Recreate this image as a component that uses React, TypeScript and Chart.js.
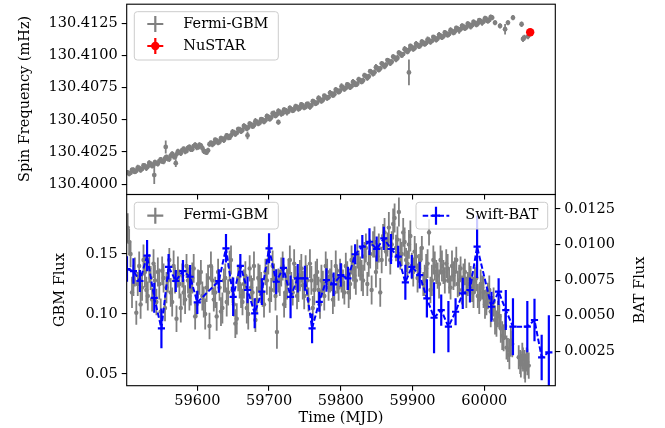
import { useEffect, useRef } from "react";
import { Chart, registerables } from "chart.js";
Chart.register(...registerables);

// ---------------- DATA ----------------
const xMin = 59501.6;
const xMax = 60099;
const xTickValues = [59600, 59700, 59800, 59900, 60000];
const freqTickValues = [130.4, 130.4025, 130.405, 130.4075, 130.41, 130.4125];
const gbmTickValues = [0.05, 0.1, 0.15];
const batTickValues = [0.0025, 0.005, 0.0075, 0.01, 0.0125];

const freqTime = [
  59503, 59507, 59511, 59515, 59519, 59523, 59527, 59531, 59535, 59539,
  59543, 59547, 59551, 59555, 59559, 59563, 59567, 59571, 59575, 59579,
  59583, 59587, 59591, 59595, 59599, 59603, 59607, 59611, 59615, 59619,
  59623, 59627, 59631, 59635, 59639, 59643, 59647, 59651, 59655, 59659,
  59663, 59667, 59671, 59675, 59679, 59683, 59687, 59691, 59695, 59699,
  59703, 59707, 59711, 59715, 59719, 59723, 59727, 59731, 59735, 59739,
  59743, 59747, 59751, 59755, 59759, 59763, 59767, 59771, 59775, 59779,
  59783, 59787, 59791, 59795, 59799, 59803, 59807, 59811, 59815, 59819,
  59823, 59827, 59831, 59835, 59839, 59843, 59847, 59851, 59855, 59859,
  59863, 59867, 59871, 59875, 59879, 59883, 59887, 59891, 59895, 59899,
  59903, 59907, 59911, 59915, 59919, 59923, 59927, 59931, 59935, 59939,
  59943, 59947, 59951, 59955, 59959, 59963, 59967, 59971, 59975, 59979,
  59983, 59987, 59991, 59995, 59999, 60003, 60007, 60011,
  60015, 60022, 60029, 60033, 60040, 60052, 60054, 60056, 60061,
  59540, 59556, 59570, 59670, 59713, 59895,
];
const freqValue = [
  130.4009, 130.40088, 130.40108, 130.40104, 130.40125, 130.40118, 130.4014, 130.40136, 130.40158, 130.4015,
  130.40162, 130.40178, 130.40176, 130.402, 130.40195, 130.40222, 130.40215, 130.40232, 130.40246, 130.40265,
  130.40255, 130.40282, 130.4027, 130.40296, 130.40288, 130.40305, 130.4028, 130.40252, 130.40262, 130.40322,
  130.40318, 130.40338, 130.4033, 130.4035, 130.4036, 130.40366, 130.40378, 130.40402, 130.40398, 130.40425,
  130.4042, 130.40446, 130.4044, 130.40465, 130.40458, 130.40484, 130.40478, 130.405, 130.40496, 130.40522,
  130.40518, 130.40548, 130.40542, 130.40562, 130.40552, 130.40575, 130.40565, 130.40584, 130.4058, 130.406,
  130.40592, 130.40612, 130.406, 130.40618, 130.40612, 130.40638, 130.40634, 130.4066, 130.40655, 130.40678,
  130.40676, 130.40705, 130.407, 130.4073, 130.40726, 130.40752, 130.40748, 130.40768, 130.40762, 130.40786,
  130.4078, 130.40808, 130.40806, 130.4084, 130.40838, 130.4087, 130.4087, 130.40902, 130.409, 130.4093,
  130.40928, 130.40958, 130.40952, 130.40985, 130.40982, 130.41015, 130.41012, 130.41042, 130.41045, 130.41066,
  130.4106, 130.41084, 130.4108, 130.411, 130.41098, 130.41118, 130.41114, 130.41136, 130.41133, 130.41154,
  130.4115, 130.41172, 130.41168, 130.4119, 130.41188, 130.41208, 130.41205, 130.41225, 130.4122, 130.4124,
  130.41236, 130.41254, 130.4125, 130.41268, 130.41265, 130.41282, 130.41278, 130.41295,
  130.41256, 130.41231, 130.41205, 130.41256, 130.41295, 130.41244, 130.4113, 130.4114, 130.4115,
  130.4007, 130.40289, 130.40163, 130.40379, 130.40482, 130.40869,
];
const freqErr = [
  0.0002, 0.00016, 0.00024, 0.00018, 0.0002, 0.00016, 0.00022, 0.00018, 0.0002, 0.00024,
  0.00018, 0.0002, 0.00016, 0.00022, 0.00018, 0.0002, 0.00024, 0.00018, 0.0002, 0.00016,
  0.00022, 0.00018, 0.0002, 0.00016, 0.00024, 0.0002, 0.00018, 0.00022, 0.0002, 0.00016,
  0.0002, 0.00018, 0.00022, 0.0002, 0.00016, 0.00024, 0.00018, 0.0002, 0.00016, 0.00022,
  0.0002, 0.00018, 0.0002, 0.00016, 0.00024, 0.00018, 0.0002, 0.00022, 0.00016, 0.0002,
  0.00018, 0.00024, 0.0002, 0.00016, 0.00022, 0.00018, 0.0002, 0.00016, 0.0002, 0.00018,
  0.00022, 0.0002, 0.00016, 0.00024, 0.00018, 0.0002, 0.00016, 0.00022, 0.0002, 0.00018,
  0.0002, 0.00016, 0.00024, 0.00018, 0.0002, 0.00022, 0.00016, 0.0002, 0.00018, 0.00024,
  0.0002, 0.00016, 0.00022, 0.00018, 0.0002, 0.00016, 0.00024, 0.0002, 0.00018, 0.00022,
  0.0002, 0.00016, 0.0002, 0.00018, 0.00024, 0.0002, 0.00016, 0.00022, 0.0002, 0.00018,
  0.0002, 0.00016, 0.00022, 0.00018, 0.0002, 0.00024, 0.00016, 0.0002, 0.00018, 0.00022,
  0.0002, 0.00016, 0.0002, 0.00018, 0.00024, 0.0002, 0.00016, 0.00022, 0.0002, 0.00018,
  0.0002, 0.00016, 0.00022, 0.00018, 0.0002, 0.00024, 0.00018, 0.0002,
  0.0002, 0.0002, 0.0004, 0.0002, 0.0002, 0.00022, 0.00025, 0.00022, 0.00022,
  0.0007, 0.0005, 0.0003, 0.0003, 0.0002, 0.001,
];

const freqTimeB = [
  59505, 59509, 59513, 59517, 59521, 59525, 59529, 59533, 59537, 59541,
  59545, 59549, 59553, 59557, 59561, 59565, 59569, 59573, 59577, 59581,
  59585, 59589, 59593, 59597, 59601, 59605, 59609, 59613, 59617, 59621,
  59625, 59629, 59633, 59637, 59641, 59645, 59649, 59653, 59657, 59661,
  59665, 59669, 59673, 59677, 59681, 59685, 59689, 59693, 59697, 59701,
  59705, 59709, 59713, 59717, 59721, 59725, 59729, 59733, 59737, 59741,
  59745, 59749, 59753, 59757, 59761, 59765, 59769, 59773, 59777, 59781,
  59785, 59789, 59793, 59797, 59801, 59805, 59809, 59813, 59817, 59821,
  59825, 59829, 59833, 59837, 59841, 59845, 59849, 59853, 59857, 59861,
  59865, 59869, 59873, 59877, 59881, 59885, 59889, 59893, 59897, 59901,
  59905, 59909, 59913, 59917, 59921, 59925, 59929, 59933, 59937, 59941,
  59945, 59949, 59953, 59957, 59961, 59965, 59969, 59973, 59977, 59981,
  59985, 59989, 59993, 59997, 60001, 60005, 60009,
];
const freqValueB = [
  130.4008, 130.4011, 130.40095, 130.40128, 130.40108, 130.40145, 130.40125, 130.40165, 130.4014, 130.4017,
  130.40158, 130.40192, 130.40175, 130.40212, 130.40196, 130.40235, 130.4021, 130.40255, 130.4024, 130.40275,
  130.40258, 130.4029, 130.40272, 130.40305, 130.40285, 130.403, 130.40258, 130.40245, 130.4031, 130.40308,
  130.40345, 130.40322, 130.40358, 130.40342, 130.40378, 130.4036, 130.40405, 130.40388, 130.40428, 130.4041,
  130.40452, 130.4043, 130.4047, 130.40448, 130.4049, 130.4047, 130.40505, 130.40485, 130.40528, 130.40505,
  130.4055, 130.4053, 130.40568, 130.40545, 130.4058, 130.40558, 130.40592, 130.4057, 130.40605, 130.40585,
  130.4062, 130.40595, 130.40625, 130.406, 130.40645, 130.40625, 130.40668, 130.40645, 130.40688, 130.40668,
  130.4071, 130.4069, 130.40735, 130.40715, 130.4076, 130.40738, 130.40775, 130.40752, 130.40795, 130.40772,
  130.40815, 130.40795, 130.40845, 130.40825, 130.40878, 130.40858, 130.4091, 130.40888, 130.40938, 130.40915,
  130.40965, 130.4094, 130.40992, 130.4097, 130.41022, 130.41, 130.4105, 130.4103, 130.41075, 130.4105,
  130.41092, 130.4107, 130.41108, 130.41088, 130.41125, 130.41105, 130.41145, 130.41122, 130.41162, 130.4114,
  130.4118, 130.41158, 130.41198, 130.41178, 130.41215, 130.41195, 130.41232, 130.4121, 130.41248, 130.41225,
  130.41262, 130.4124, 130.41275, 130.41255, 130.4129, 130.41268, 130.413,
];
const freqErrB = [
  0.00018, 0.0002, 0.00016, 0.00022, 0.0002, 0.00018, 0.00024, 0.0002, 0.00016, 0.0002,
  0.00022, 0.00018, 0.0002, 0.00016, 0.00024, 0.0002, 0.00018, 0.0002, 0.00022, 0.00016,
  0.0002, 0.00018, 0.00022, 0.0002, 0.00016, 0.0002, 0.00024, 0.00018, 0.0002, 0.00022,
  0.00016, 0.0002, 0.00018, 0.00022, 0.0002, 0.00016, 0.00024, 0.0002, 0.00018, 0.0002,
  0.00022, 0.00016, 0.0002, 0.00018, 0.00024, 0.0002, 0.00016, 0.0002, 0.00022, 0.00018,
  0.0002, 0.00016, 0.00022, 0.0002, 0.00018, 0.00024, 0.0002, 0.00016, 0.0002, 0.00022,
  0.00018, 0.0002, 0.00016, 0.00022, 0.0002, 0.00018, 0.00024, 0.0002, 0.00016, 0.0002,
  0.00022, 0.00018, 0.0002, 0.00016, 0.00024, 0.0002, 0.00018, 0.0002, 0.00022, 0.00016,
  0.0002, 0.00018, 0.00022, 0.0002, 0.00016, 0.0002, 0.00024, 0.00018, 0.0002, 0.00022,
  0.00016, 0.0002, 0.00018, 0.00022, 0.0002, 0.00016, 0.00024, 0.0002, 0.00018, 0.0002,
  0.00022, 0.00016, 0.0002, 0.00018, 0.00024, 0.0002, 0.00016, 0.0002, 0.00022, 0.00018,
  0.0002, 0.00016, 0.00022, 0.0002, 0.00018, 0.00024, 0.0002, 0.00016, 0.0002, 0.00022,
  0.00018, 0.0002, 0.00016, 0.00022, 0.0002, 0.00018, 0.0002,
];

const nustarTime = [60064];
const nustarValue = [130.41182];
const nustarErr = [0.00003];

const gbmTime = [
  59503, 59507, 59511, 59515, 59519, 59523, 59527, 59531, 59535, 59539,
  59543, 59547, 59551, 59555, 59559, 59563, 59567, 59571, 59575, 59579,
  59583, 59587, 59591, 59595, 59599, 59603, 59607, 59611, 59615, 59619,
  59623, 59627, 59631, 59635, 59639, 59643, 59647, 59651, 59655, 59659,
  59663, 59667, 59671, 59675, 59679, 59683, 59687, 59691, 59695, 59699,
  59703, 59707, 59711, 59715, 59719, 59723, 59727, 59731, 59735, 59739,
  59743, 59747, 59751, 59755, 59759, 59763, 59767, 59771, 59775, 59779,
  59783, 59787, 59791, 59795, 59799, 59803, 59807, 59811, 59815, 59819,
  59823, 59827, 59831, 59835, 59839, 59843, 59847, 59851, 59855, 59859,
  59863, 59867, 59871, 59875, 59879, 59883, 59887, 59891, 59895, 59899,
  59903, 59907, 59911, 59915, 59919, 59923, 59927, 59931, 59935, 59939,
  59943, 59947, 59951, 59955, 59959, 59963, 59967, 59971, 59975, 59979,
  59983, 59987, 59991, 59995, 59999, 60003, 60007, 60011, 60015, 60019,
  60023, 60027, 60031, 60035, 60039, 60050, 60053, 60056, 60059, 60062,
];
const gbmFlux = [
  0.172, 0.15, 0.128, 0.101, 0.14, 0.122, 0.135, 0.115, 0.13, 0.142,
  0.11, 0.125, 0.136, 0.105, 0.128, 0.118, 0.14, 0.096, 0.125, 0.132,
  0.112, 0.128, 0.12, 0.138, 0.108, 0.126, 0.115, 0.1, 0.13, 0.14,
  0.112, 0.098, 0.122, 0.105, 0.13, 0.118, 0.145, 0.108, 0.096, 0.125,
  0.11, 0.132, 0.1, 0.122, 0.14, 0.112, 0.128, 0.118, 0.135, 0.145,
  0.12, 0.13, 0.085, 0.126, 0.14, 0.118, 0.135, 0.125, 0.142, 0.115,
  0.132, 0.124, 0.138, 0.112, 0.128, 0.12, 0.135, 0.108, 0.126, 0.14,
  0.122, 0.132, 0.118, 0.128, 0.136, 0.125, 0.14, 0.118, 0.145, 0.132,
  0.15, 0.138, 0.128, 0.155, 0.142, 0.12, 0.16, 0.148, 0.118, 0.165,
  0.152, 0.172, 0.158, 0.18, 0.162, 0.15, 0.168, 0.145, 0.158, 0.14,
  0.152, 0.13, 0.145, 0.125, 0.138, 0.168, 0.128, 0.14, 0.132, 0.145,
  0.135, 0.142, 0.128, 0.14, 0.135, 0.125, 0.138, 0.13, 0.118, 0.132,
  0.122, 0.128, 0.115, 0.125, 0.118, 0.11, 0.12, 0.105, 0.095, 0.1,
  0.088, 0.08, 0.072, 0.066, 0.075, 0.06, 0.065, 0.058, 0.062, 0.057,
];
const gbmFluxErr = [
  0.012, 0.011, 0.013, 0.01, 0.012, 0.011, 0.013, 0.012, 0.01, 0.012,
  0.011, 0.013, 0.012, 0.011, 0.01, 0.012, 0.013, 0.011, 0.012, 0.01,
  0.012, 0.011, 0.013, 0.012, 0.011, 0.01, 0.012, 0.013, 0.011, 0.012,
  0.01, 0.012, 0.011, 0.013, 0.012, 0.011, 0.012, 0.01, 0.013, 0.012,
  0.011, 0.012, 0.013, 0.01, 0.012, 0.011, 0.013, 0.012, 0.011, 0.012,
  0.01, 0.012, 0.014, 0.011, 0.012, 0.013, 0.011, 0.01, 0.012, 0.011,
  0.013, 0.012, 0.011, 0.01, 0.012, 0.013, 0.011, 0.012, 0.01, 0.012,
  0.011, 0.013, 0.012, 0.011, 0.01, 0.012, 0.011, 0.013, 0.012, 0.011,
  0.012, 0.01, 0.013, 0.012, 0.011, 0.012, 0.013, 0.011, 0.012, 0.01,
  0.012, 0.013, 0.011, 0.012, 0.011, 0.013, 0.012, 0.01, 0.012, 0.011,
  0.013, 0.012, 0.011, 0.01, 0.012, 0.011, 0.013, 0.012, 0.011, 0.012,
  0.01, 0.012, 0.011, 0.013, 0.012, 0.011, 0.01, 0.012, 0.013, 0.011,
  0.012, 0.011, 0.01, 0.012, 0.013, 0.011, 0.012, 0.01, 0.012, 0.011,
  0.012, 0.011, 0.01, 0.012, 0.011, 0.01, 0.011, 0.012, 0.01, 0.011,
];

const gbmTimeB = [
  59505, 59509, 59513, 59517, 59521, 59525, 59529, 59533, 59537, 59541,
  59545, 59549, 59553, 59557, 59561, 59565, 59569, 59573, 59577, 59581,
  59585, 59589, 59593, 59597, 59601, 59605, 59609, 59613, 59617, 59621,
  59625, 59629, 59633, 59637, 59641, 59645, 59649, 59653, 59657, 59661,
  59665, 59669, 59673, 59677, 59681, 59685, 59689, 59693, 59697, 59701,
  59705, 59709, 59713, 59717, 59721, 59725, 59729, 59733, 59737, 59741,
  59745, 59749, 59753, 59757, 59761, 59765, 59769, 59773, 59777, 59781,
  59785, 59789, 59793, 59797, 59801, 59805, 59809, 59813, 59817, 59821,
  59825, 59829, 59833, 59837, 59841, 59845, 59849, 59853, 59857, 59861,
  59865, 59869, 59873, 59877, 59881, 59885, 59889, 59893, 59897, 59901,
  59905, 59909, 59913, 59917, 59921, 59925, 59929, 59933, 59937, 59941,
  59945, 59949, 59953, 59957, 59961, 59965, 59969, 59973, 59977, 59981,
  59985, 59989, 59993, 59997, 60001, 60005, 60009, 60013, 60017, 60021,
  60025, 60029, 60033, 60037, 60048, 60051, 60054, 60057, 60060,
];
const gbmFluxB = [
  0.16, 0.118, 0.135, 0.125, 0.108, 0.145, 0.12, 0.138, 0.112, 0.128,
  0.135, 0.102, 0.13, 0.122, 0.145, 0.11, 0.128, 0.135, 0.105, 0.118,
  0.14, 0.115, 0.13, 0.098, 0.125, 0.135, 0.11, 0.122, 0.09, 0.128,
  0.118, 0.135, 0.102, 0.128, 0.11, 0.14, 0.12, 0.092, 0.13, 0.115,
  0.125, 0.105, 0.138, 0.118, 0.095, 0.13, 0.122, 0.108, 0.128, 0.112,
  0.14, 0.115, 0.128, 0.135, 0.108, 0.125, 0.145, 0.118, 0.13, 0.122,
  0.138, 0.115, 0.128, 0.142, 0.105, 0.132, 0.12, 0.128, 0.115, 0.135,
  0.128, 0.112, 0.14, 0.122, 0.13, 0.118, 0.132, 0.125, 0.138, 0.128,
  0.142, 0.132, 0.148, 0.125, 0.15, 0.158, 0.135, 0.155, 0.145, 0.168,
  0.158, 0.145, 0.175, 0.155, 0.185, 0.15, 0.16, 0.142, 0.165, 0.135,
  0.148, 0.138, 0.155, 0.128, 0.142, 0.12, 0.145, 0.135, 0.125, 0.14,
  0.128, 0.138, 0.122, 0.132, 0.145, 0.128, 0.12, 0.135, 0.125, 0.128,
  0.118, 0.13, 0.112, 0.122, 0.108, 0.115, 0.102, 0.11, 0.092, 0.098,
  0.082, 0.09, 0.07, 0.078, 0.064, 0.058, 0.062, 0.055, 0.06,
];
const gbmFluxErrB = [
  0.011, 0.013, 0.012, 0.01, 0.012, 0.013, 0.011, 0.012, 0.01, 0.013,
  0.012, 0.011, 0.012, 0.013, 0.01, 0.012, 0.011, 0.013, 0.012, 0.011,
  0.01, 0.012, 0.013, 0.011, 0.012, 0.01, 0.013, 0.012, 0.011, 0.012,
  0.013, 0.011, 0.012, 0.01, 0.012, 0.013, 0.011, 0.012, 0.011, 0.01,
  0.012, 0.013, 0.011, 0.012, 0.01, 0.012, 0.013, 0.011, 0.012, 0.011,
  0.013, 0.012, 0.01, 0.012, 0.011, 0.013, 0.012, 0.011, 0.01, 0.012,
  0.012, 0.011, 0.013, 0.012, 0.01, 0.012, 0.011, 0.013, 0.012, 0.011,
  0.01, 0.012, 0.013, 0.011, 0.012, 0.01, 0.012, 0.013, 0.011, 0.012,
  0.011, 0.013, 0.012, 0.01, 0.012, 0.011, 0.013, 0.012, 0.011, 0.012,
  0.01, 0.012, 0.013, 0.011, 0.012, 0.01, 0.012, 0.011, 0.013, 0.012,
  0.011, 0.012, 0.01, 0.013, 0.012, 0.011, 0.012, 0.01, 0.012, 0.013,
  0.011, 0.012, 0.01, 0.012, 0.011, 0.013, 0.012, 0.011, 0.01, 0.012,
  0.013, 0.011, 0.012, 0.01, 0.012, 0.011, 0.013, 0.012, 0.011, 0.01,
  0.012, 0.011, 0.01, 0.012, 0.01, 0.011, 0.01, 0.012, 0.011,
];

const batTime = [
  59502, 59511, 59520, 59530, 59540, 59550, 59560, 59570, 59580, 59590,
  59600, 59630, 59640, 59650, 59660, 59670, 59680, 59690, 59700, 59710,
  59720, 59730, 59740, 59750, 59760, 59770, 59780, 59790, 59800, 59810,
  59820, 59830, 59840, 59850, 59860, 59870, 59880, 59890, 59899, 59910,
  59920, 59930, 59940, 59950, 59960, 59970, 59980, 59990, 60010, 60020,
  60030, 60040, 60060, 60070, 60080, 60090,
];
const batFlux = [
  0.00828, 0.00814, 0.00744, 0.00922, 0.00626, 0.00411, 0.00844, 0.00744, 0.00814, 0.00774,
  0.00594, 0.00744, 0.00974, 0.00633, 0.00851, 0.00681, 0.00517, 0.00669, 0.00974, 0.00739,
  0.00837, 0.00633, 0.00763, 0.00763, 0.00411, 0.00598, 0.00751, 0.00721, 0.00786, 0.00763,
  0.00932, 0.00985, 0.0102, 0.00969, 0.01044, 0.00969, 0.00915, 0.00735, 0.00844, 0.00786,
  0.00622, 0.00486, 0.0054, 0.00423, 0.00528, 0.00657, 0.00681, 0.00985, 0.00563, 0.00669,
  0.0054, 0.00423, 0.00423, 0.0047, 0.00207, 0.00243,
];
const batFluxErr = [
  0.0009, 0.0009, 0.00077, 0.0011, 0.00105, 0.0014, 0.0009, 0.00077, 0.00077, 0.00082,
  0.00082, 0.00082, 0.001, 0.00135, 0.00082, 0.00094, 0.00105, 0.00094, 0.00105, 0.00088,
  0.0007, 0.0015, 0.001, 0.00088, 0.00105, 0.0007, 0.00082, 0.00082, 0.00082, 0.00082,
  0.0007, 0.00082, 0.00094, 0.00088, 0.00082, 0.00105, 0.00076, 0.00123, 0.00082, 0.00094,
  0.00135, 0.0025, 0.0011, 0.0018, 0.00094, 0.0011, 0.00088, 0.0022, 0.00105, 0.00094,
  0.0014, 0.002, 0.0018, 0.0015, 0.0016, 0.0026,
];
const batBinHalfWidth = [5];

// ---------------- STYLE ----------------
const FONT = "'DejaVu Serif', serif";
const FS = 14.5;
const W = 665;
const H = 428;
const AREA_LEFT = 126.7;
const AREA_RIGHT = 555.3;
const AREA_TOP = 3.3;
const AREA_MID = 194.5;
const AREA_BOTTOM = 385.7;
const GRAY = "#808080";
const BLUE = "#0000ff";
const RED = "#ff0000";

const pts = (xs: number[], ys: number[]) => xs.map((x, i) => ({ x, y: ys[i] }));

const zeroPad = (s: any) => {
  s.paddingLeft = 0;
  s.paddingRight = 0;
  s.paddingTop = 0;
  s.paddingBottom = 0;
};

const tickGrid = { drawOnChartArea: false, drawTicks: true, tickLength: 5, color: "#000", lineWidth: 1.1 };

const errorBarPlugin = {
  id: "errorBars",
  beforeDatasetDraw(chart: any, args: any) {
    const ds = chart.data.datasets[args.index];
    if (!ds.yErr) return;
    const xs = chart.scales[ds.xAxisID || "x"];
    const ys = chart.scales[ds.yAxisID || "y"];
    const a = chart.chartArea;
    const ctx = chart.ctx;
    ctx.save();
    ctx.beginPath();
    ctx.rect(a.left, a.top, a.right - a.left, a.bottom - a.top);
    ctx.clip();
    ctx.strokeStyle = ds.errColor;
    ctx.lineWidth = ds.errWidth;
    ctx.setLineDash([]);
    ds.data.forEach((p: any, i: number) => {
      const e = ds.yErr[i];
      const px = xs.getPixelForValue(p.x);
      ctx.beginPath();
      ctx.moveTo(px, ys.getPixelForValue(p.y - e));
      ctx.lineTo(px, ys.getPixelForValue(p.y + e));
      if (ds.xErr) {
        const py = ys.getPixelForValue(p.y);
        ctx.moveTo(xs.getPixelForValue(p.x - ds.xErr[0]), py);
        ctx.lineTo(xs.getPixelForValue(p.x + ds.xErr[0]), py);
      }
      ctx.stroke();
    });
    ctx.restore();
  },
};

function roundRect(ctx: CanvasRenderingContext2D, x0: number, y0: number, x1: number, y1: number, r: number) {
  ctx.beginPath();
  ctx.moveTo(x0 + r, y0);
  ctx.lineTo(x1 - r, y0);
  ctx.quadraticCurveTo(x1, y0, x1, y0 + r);
  ctx.lineTo(x1, y1 - r);
  ctx.quadraticCurveTo(x1, y1, x1 - r, y1);
  ctx.lineTo(x0 + r, y1);
  ctx.quadraticCurveTo(x0, y1, x0, y1 - r);
  ctx.lineTo(x0, y0 + r);
  ctx.quadraticCurveTo(x0, y0, x0 + r, y0);
  ctx.closePath();
}

function legendBox(ctx: CanvasRenderingContext2D, x0: number, y0: number, x1: number, y1: number) {
  ctx.save();
  roundRect(ctx, x0, y0, x1, y1, 3);
  ctx.fillStyle = "rgba(255,255,255,0.8)";
  ctx.fill();
  ctx.strokeStyle = "#cccccc";
  ctx.lineWidth = 1;
  ctx.stroke();
  ctx.restore();
}

function cross(ctx: CanvasRenderingContext2D, cx: number, cy: number, hw: number, hh: number, color: string, lw: number) {
  ctx.save();
  ctx.strokeStyle = color;
  ctx.lineWidth = lw;
  ctx.beginPath();
  ctx.moveTo(cx - hw, cy);
  ctx.lineTo(cx + hw, cy);
  ctx.moveTo(cx, cy - hh);
  ctx.lineTo(cx, cy + hh);
  ctx.stroke();
  ctx.restore();
}

function label(ctx: CanvasRenderingContext2D, text: string, x: number, y: number, align: CanvasTextAlign, rot = 0) {
  ctx.save();
  ctx.font = `${FS}px ${FONT}`;
  ctx.fillStyle = "#000";
  ctx.textAlign = align;
  ctx.textBaseline = "middle";
  ctx.translate(x, y);
  if (rot) ctx.rotate(rot);
  ctx.fillText(text, 0, 0);
  ctx.restore();
}

function frame(chart: any) {
  const a = chart.chartArea;
  const ctx = chart.ctx;
  ctx.save();
  ctx.strokeStyle = "#000";
  ctx.lineWidth = 1.1;
  ctx.strokeRect(a.left, a.top, a.right - a.left, a.bottom - a.top);
  ctx.restore();
}

const topDecor = {
  id: "topDecor",
  afterDraw(chart: any) {
    const ctx = chart.ctx;
    frame(chart);
    legendBox(ctx, 134.3, 11.7, 278.3, 60);
    cross(ctx, 155.3, 24, 8, 8, GRAY, 2.2);
    label(ctx, "Fermi-GBM", 183.3, 24, "left");
    cross(ctx, 155.3, 46, 8, 8, RED, 2.2);
    ctx.save();
    ctx.fillStyle = RED;
    ctx.beginPath();
    ctx.arc(155.3, 46, 4.2, 0, Math.PI * 2);
    ctx.fill();
    ctx.restore();
    label(ctx, "NuSTAR", 183.3, 46, "left");
    label(ctx, "Spin Frequency (mHz)", 25, (AREA_TOP + AREA_MID) / 2, "center", -Math.PI / 2);
  },
};

const bottomDecor = {
  id: "bottomDecor",
  afterDraw(chart: any) {
    const ctx = chart.ctx;
    frame(chart);
    legendBox(ctx, 134.3, 202.3, 278.3, 229);
    cross(ctx, 155.3, 215.7, 8, 8, GRAY, 2.2);
    label(ctx, "Fermi-GBM", 183.3, 215.7, "left");
    legendBox(ctx, 416, 202.3, 547.7, 229);
    ctx.save();
    ctx.strokeStyle = BLUE;
    ctx.lineWidth = 2;
    ctx.setLineDash([5.5, 2.4]);
    ctx.beginPath();
    ctx.moveTo(422.7, 215.7);
    ctx.lineTo(449.3, 215.7);
    ctx.stroke();
    ctx.restore();
    cross(ctx, 436, 215.7, 4, 9, BLUE, 2.2);
    label(ctx, "Swift-BAT", 465.3, 215.7, "left");
    const midY = (AREA_MID + AREA_BOTTOM) / 2;
    label(ctx, "GBM Flux", 60, midY, "center", -Math.PI / 2);
    label(ctx, "BAT Flux", 640, midY, "center", -Math.PI / 2);
    label(ctx, "Time (MJD)", (AREA_LEFT + AREA_RIGHT) / 2, 418, "center");
  },
};

function topConfig(): any {
  return {
    type: "scatter",
    data: {
      datasets: [
        {
          label: "NuSTAR",
          data: pts(nustarTime, nustarValue),
          yAxisID: "y",
          backgroundColor: RED,
          borderColor: RED,
          borderWidth: 0,
          pointRadius: 4.2,
          yErr: nustarErr,
          errColor: RED,
          errWidth: 2,
          clip: 0,
        },
        {
          label: "Fermi-GBM",
          data: pts(freqTime.concat(freqTimeB), freqValue.concat(freqValueB)),
          yAxisID: "y",
          backgroundColor: GRAY,
          borderColor: GRAY,
          borderWidth: 0,
          pointRadius: 2.4,
          yErr: freqErr.concat(freqErrB),
          errColor: GRAY,
          errWidth: 1.8,
          clip: 0,
        },
      ],
    },
    options: {
      animation: false,
      responsive: false,
      events: [],
      layout: { padding: { left: 0, top: AREA_TOP, right: W - AREA_RIGHT, bottom: 0 } },
      plugins: { legend: { display: false }, tooltip: { enabled: false }, title: { display: false } },
      scales: {
        x: {
          type: "linear",
          position: "bottom",
          min: xMin,
          max: xMax,
          afterBuildTicks: (s: any) => {
            s.ticks = xTickValues.map((v) => ({ value: v }));
          },
          afterFit: (s: any) => {
            s.height = H - AREA_MID;
            zeroPad(s);
          },
          ticks: { display: false },
          grid: tickGrid,
          border: { display: false },
        },
        y: {
          type: "linear",
          position: "left",
          min: 130.39919,
          max: 130.414,
          afterBuildTicks: (s: any) => {
            s.ticks = freqTickValues.map((v) => ({ value: v }));
          },
          afterFit: (s: any) => {
            s.width = AREA_LEFT;
            zeroPad(s);
          },
          ticks: {
            color: "#000",
            padding: 4,
            font: { family: FONT, size: FS },
            callback: (v: any) => Number(v).toFixed(4),
          },
          grid: tickGrid,
          border: { display: false },
        },
      },
    },
    plugins: [errorBarPlugin, topDecor],
  };
}

function bottomConfig(): any {
  return {
    type: "scatter",
    data: {
      datasets: [
        {
          label: "Swift-BAT",
          data: pts(batTime, batFlux),
          yAxisID: "y2",
          showLine: true,
          borderColor: BLUE,
          backgroundColor: BLUE,
          borderWidth: 2,
          borderDash: [5.5, 2.4],
          pointRadius: 0,
          tension: 0,
          fill: false,
          yErr: batFluxErr,
          xErr: batBinHalfWidth,
          errColor: BLUE,
          errWidth: 2.2,
          clip: 0,
        },
        {
          label: "Fermi-GBM",
          data: pts(gbmTime.concat(gbmTimeB), gbmFlux.concat(gbmFluxB)),
          yAxisID: "y",
          backgroundColor: GRAY,
          borderColor: GRAY,
          borderWidth: 0,
          pointRadius: 2.2,
          yErr: gbmFluxErr.concat(gbmFluxErrB),
          errColor: GRAY,
          errWidth: 1.8,
          clip: 0,
        },
      ],
    },
    options: {
      animation: false,
      responsive: false,
      events: [],
      layout: { padding: { left: 0, top: AREA_MID, right: 0, bottom: 0 } },
      plugins: { legend: { display: false }, tooltip: { enabled: false }, title: { display: false } },
      scales: {
        x: {
          type: "linear",
          position: "bottom",
          min: xMin,
          max: xMax,
          afterBuildTicks: (s: any) => {
            s.ticks = xTickValues.map((v) => ({ value: v }));
          },
          afterFit: (s: any) => {
            s.height = H - AREA_BOTTOM;
            zeroPad(s);
          },
          ticks: {
            color: "#000",
            padding: 2,
            maxRotation: 0,
            font: { family: FONT, size: FS },
            callback: (v: any) => String(Math.round(Number(v))),
          },
          grid: tickGrid,
          border: { display: false },
        },
        y: {
          type: "linear",
          position: "left",
          min: 0.04025,
          max: 0.1996,
          afterBuildTicks: (s: any) => {
            s.ticks = gbmTickValues.map((v) => ({ value: v }));
          },
          afterFit: (s: any) => {
            s.width = AREA_LEFT;
            zeroPad(s);
          },
          ticks: {
            color: "#000",
            padding: 4,
            font: { family: FONT, size: FS },
            callback: (v: any) => Number(v).toFixed(2),
          },
          grid: tickGrid,
          border: { display: false },
        },
        y2: {
          type: "linear",
          position: "right",
          min: 0.000083,
          max: 0.01352,
          afterBuildTicks: (s: any) => {
            s.ticks = batTickValues.map((v) => ({ value: v }));
          },
          afterFit: (s: any) => {
            s.width = W - AREA_RIGHT;
            zeroPad(s);
          },
          ticks: {
            color: "#000",
            padding: 4,
            font: { family: FONT, size: FS },
            callback: (v: any) => Number(v).toFixed(4),
          },
          grid: tickGrid,
          border: { display: false },
        },
      },
    },
    plugins: [errorBarPlugin, bottomDecor],
  };
}

export default function App() {
  const topRef = useRef<HTMLCanvasElement>(null);
  const botRef = useRef<HTMLCanvasElement>(null);
  useEffect(() => {
    const c2 = new Chart(botRef.current as HTMLCanvasElement, bottomConfig());
    const c1 = new Chart(topRef.current as HTMLCanvasElement, topConfig());
    return () => {
      c1.destroy();
      c2.destroy();
    };
  }, []);
  return (
    <div style={{ position: "fixed", left: 0, top: 0, width: W, height: H, background: "#fff" }}>
      <canvas ref={botRef} width={W} height={H} style={{ position: "absolute", left: 0, top: 0 }} />
      <canvas ref={topRef} width={W} height={H} style={{ position: "absolute", left: 0, top: 0 }} />
    </div>
  );
}
